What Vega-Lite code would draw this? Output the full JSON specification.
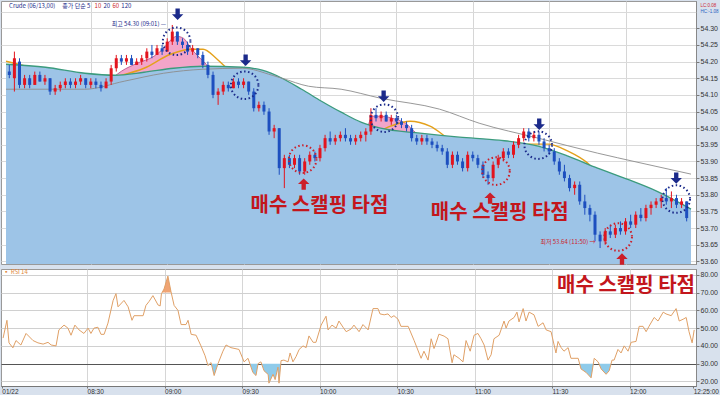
{
"$schema": "https://vega.github.io/schema/vega-lite/v6.json",
"padding": 0,
"spacing": 2,
"config": {
  "background": "#d8e1ed",
  "view": {"stroke": "#999999", "fill": "white"},
  "axis": {"labelFont": "Liberation Sans", "labelFontSize": 7, "labelColor": "#333333", "tickColor": "#777777", "domainColor": "#777777"},
  "text": {"font": "Noto Sans CJK KR"}
},
"datasets": {
  "candles": [
{"t":478,"o":54.17,"h":54.19,"l":54.15,"c":54.16},{"t":480,"o":54.15,"h":54.23,"l":54.11,"c":54.21},{"t":482,"o":54.20,"h":54.21,"l":54.12,"c":54.13},{"t":484,"o":54.13,"h":54.16,"l":54.12,"c":54.15},{"t":486,"o":54.15,"h":54.16,"l":54.12,"c":54.13},{"t":488,"o":54.13,"h":54.17,"l":54.13,"c":54.16},{"t":490,"o":54.16,"h":54.17,"l":54.14,"c":54.14},{"t":492,"o":54.14,"h":54.16,"l":54.13,"c":54.15},{"t":494,"o":54.15,"h":54.15,"l":54.10,"c":54.11},{"t":496,"o":54.11,"h":54.13,"l":54.10,"c":54.12},
{"t":498,"o":54.12,"h":54.14,"l":54.11,"c":54.13},{"t":500,"o":54.13,"h":54.15,"l":54.12,"c":54.14},{"t":502,"o":54.14,"h":54.15,"l":54.12,"c":54.13},{"t":504,"o":54.13,"h":54.15,"l":54.12,"c":54.14},{"t":506,"o":54.14,"h":54.16,"l":54.13,"c":54.15},{"t":508,"o":54.15,"h":54.15,"l":54.12,"c":54.13},{"t":510,"o":54.13,"h":54.15,"l":54.12,"c":54.14},{"t":512,"o":54.14,"h":54.15,"l":54.12,"c":54.13},{"t":514,"o":54.13,"h":54.14,"l":54.11,"c":54.12},{"t":516,"o":54.12,"h":54.15,"l":54.12,"c":54.14},
{"t":518,"o":54.14,"h":54.19,"l":54.13,"c":54.18},{"t":520,"o":54.18,"h":54.22,"l":54.17,"c":54.21},{"t":522,"o":54.21,"h":54.22,"l":54.19,"c":54.20},{"t":524,"o":54.20,"h":54.22,"l":54.19,"c":54.21},{"t":526,"o":54.21,"h":54.22,"l":54.19,"c":54.19},{"t":528,"o":54.19,"h":54.21,"l":54.19,"c":54.20},{"t":530,"o":54.20,"h":54.22,"l":54.19,"c":54.21},{"t":532,"o":54.21,"h":54.24,"l":54.20,"c":54.23},{"t":534,"o":54.23,"h":54.25,"l":54.21,"c":54.22},{"t":536,"o":54.22,"h":54.25,"l":54.22,"c":54.24},
{"t":538,"o":54.24,"h":54.25,"l":54.22,"c":54.23},{"t":540,"o":54.23,"h":54.27,"l":54.23,"c":54.26},{"t":542,"o":54.26,"h":54.31,"l":54.25,"c":54.29},{"t":544,"o":54.29,"h":54.29,"l":54.25,"c":54.26},{"t":546,"o":54.26,"h":54.27,"l":54.24,"c":54.25},{"t":548,"o":54.25,"h":54.26,"l":54.22,"c":54.23},{"t":550,"o":54.23,"h":54.25,"l":54.22,"c":54.24},{"t":552,"o":54.24,"h":54.24,"l":54.21,"c":54.22},{"t":554,"o":54.22,"h":54.23,"l":54.18,"c":54.19},{"t":556,"o":54.19,"h":54.20,"l":54.15,"c":54.16},
{"t":558,"o":54.16,"h":54.17,"l":54.09,"c":54.10},{"t":560,"o":54.10,"h":54.12,"l":54.07,"c":54.11},{"t":562,"o":54.11,"h":54.14,"l":54.10,"c":54.13},{"t":564,"o":54.13,"h":54.14,"l":54.11,"c":54.12},{"t":566,"o":54.12,"h":54.15,"l":54.12,"c":54.14},{"t":568,"o":54.14,"h":54.15,"l":54.12,"c":54.13},{"t":570,"o":54.13,"h":54.15,"l":54.12,"c":54.14},{"t":572,"o":54.14,"h":54.14,"l":54.10,"c":54.11},{"t":574,"o":54.11,"h":54.12,"l":54.05,"c":54.06},{"t":576,"o":54.06,"h":54.08,"l":54.05,"c":54.07},
{"t":578,"o":54.07,"h":54.08,"l":54.04,"c":54.05},{"t":580,"o":54.05,"h":54.06,"l":53.98,"c":53.99},{"t":582,"o":53.99,"h":54.01,"l":53.97,"c":54.00},{"t":584,"o":54.00,"h":54.00,"l":53.86,"c":53.88},{"t":586,"o":53.88,"h":53.92,"l":53.82,"c":53.91},{"t":588,"o":53.91,"h":53.92,"l":53.88,"c":53.89},{"t":590,"o":53.89,"h":53.92,"l":53.88,"c":53.91},{"t":592,"o":53.91,"h":53.92,"l":53.86,"c":53.87},{"t":594,"o":53.87,"h":53.91,"l":53.86,"c":53.90},{"t":596,"o":53.90,"h":53.93,"l":53.89,"c":53.92},
{"t":598,"o":53.92,"h":53.93,"l":53.90,"c":53.91},{"t":600,"o":53.91,"h":53.95,"l":53.90,"c":53.94},{"t":602,"o":53.94,"h":53.98,"l":53.93,"c":53.97},{"t":604,"o":53.97,"h":53.99,"l":53.95,"c":53.96},{"t":606,"o":53.96,"h":53.98,"l":53.95,"c":53.97},{"t":608,"o":53.97,"h":53.99,"l":53.96,"c":53.98},{"t":610,"o":53.98,"h":54.00,"l":53.96,"c":53.97},{"t":612,"o":53.97,"h":53.98,"l":53.95,"c":53.96},{"t":614,"o":53.96,"h":53.98,"l":53.95,"c":53.97},{"t":616,"o":53.97,"h":53.99,"l":53.96,"c":53.98},
{"t":618,"o":53.98,"h":54.00,"l":53.96,"c":53.99},{"t":620,"o":53.99,"h":54.06,"l":53.98,"c":54.04},{"t":622,"o":54.04,"h":54.06,"l":54.02,"c":54.03},{"t":624,"o":54.03,"h":54.05,"l":54.02,"c":54.04},{"t":626,"o":54.04,"h":54.05,"l":54.02,"c":54.02},{"t":628,"o":54.02,"h":54.04,"l":54.01,"c":54.03},{"t":630,"o":54.03,"h":54.04,"l":54.01,"c":54.02},{"t":632,"o":54.02,"h":54.03,"l":54.00,"c":54.01},{"t":634,"o":54.01,"h":54.02,"l":53.99,"c":54.00},{"t":636,"o":54.00,"h":54.01,"l":53.96,"c":53.97},
{"t":638,"o":53.97,"h":53.98,"l":53.95,"c":53.96},{"t":640,"o":53.96,"h":53.98,"l":53.95,"c":53.97},{"t":642,"o":53.97,"h":53.98,"l":53.95,"c":53.96},{"t":644,"o":53.96,"h":53.97,"l":53.94,"c":53.95},{"t":646,"o":53.95,"h":53.96,"l":53.93,"c":53.94},{"t":648,"o":53.94,"h":53.95,"l":53.92,"c":53.93},{"t":650,"o":53.93,"h":53.94,"l":53.88,"c":53.89},{"t":652,"o":53.89,"h":53.93,"l":53.88,"c":53.92},{"t":654,"o":53.92,"h":53.93,"l":53.89,"c":53.90},{"t":656,"o":53.90,"h":53.91,"l":53.87,"c":53.88},
{"t":658,"o":53.88,"h":53.93,"l":53.87,"c":53.92},{"t":660,"o":53.92,"h":53.93,"l":53.90,"c":53.91},{"t":662,"o":53.91,"h":53.92,"l":53.88,"c":53.89},{"t":664,"o":53.89,"h":53.90,"l":53.85,"c":53.86},{"t":666,"o":53.86,"h":53.87,"l":53.83,"c":53.85},{"t":668,"o":53.85,"h":53.90,"l":53.84,"c":53.89},{"t":670,"o":53.89,"h":53.92,"l":53.88,"c":53.91},{"t":672,"o":53.91,"h":53.94,"l":53.90,"c":53.93},{"t":674,"o":53.93,"h":53.94,"l":53.91,"c":53.92},{"t":676,"o":53.92,"h":53.96,"l":53.91,"c":53.95},
{"t":678,"o":53.95,"h":53.98,"l":53.94,"c":53.97},{"t":680,"o":53.97,"h":54.00,"l":53.96,"c":53.99},{"t":682,"o":53.99,"h":54.00,"l":53.96,"c":53.97},{"t":684,"o":53.97,"h":53.99,"l":53.96,"c":53.98},{"t":686,"o":53.98,"h":53.99,"l":53.95,"c":53.96},{"t":688,"o":53.96,"h":53.97,"l":53.93,"c":53.94},{"t":690,"o":53.94,"h":53.95,"l":53.92,"c":53.93},{"t":692,"o":53.93,"h":53.94,"l":53.89,"c":53.90},{"t":694,"o":53.90,"h":53.91,"l":53.86,"c":53.87},{"t":696,"o":53.87,"h":53.89,"l":53.84,"c":53.85},
{"t":698,"o":53.85,"h":53.86,"l":53.81,"c":53.82},{"t":700,"o":53.82,"h":53.84,"l":53.80,"c":53.83},{"t":702,"o":53.83,"h":53.84,"l":53.77,"c":53.78},{"t":704,"o":53.78,"h":53.80,"l":53.74,"c":53.76},{"t":706,"o":53.76,"h":53.77,"l":53.72,"c":53.74},{"t":708,"o":53.74,"h":53.75,"l":53.66,"c":53.68},{"t":710,"o":53.68,"h":53.69,"l":53.64,"c":53.66},{"t":712,"o":53.66,"h":53.70,"l":53.65,"c":53.69},{"t":714,"o":53.69,"h":53.71,"l":53.67,"c":53.68},{"t":716,"o":53.68,"h":53.71,"l":53.67,"c":53.70},
{"t":718,"o":53.70,"h":53.72,"l":53.68,"c":53.69},{"t":720,"o":53.69,"h":53.73,"l":53.68,"c":53.72},{"t":722,"o":53.72,"h":53.74,"l":53.70,"c":53.71},{"t":724,"o":53.71,"h":53.75,"l":53.70,"c":53.74},{"t":726,"o":53.74,"h":53.76,"l":53.72,"c":53.73},{"t":728,"o":53.73,"h":53.77,"l":53.72,"c":53.76},{"t":730,"o":53.76,"h":53.78,"l":53.74,"c":53.77},{"t":732,"o":53.77,"h":53.79,"l":53.76,"c":53.78},{"t":734,"o":53.78,"h":53.80,"l":53.76,"c":53.79},{"t":736,"o":53.79,"h":53.82,"l":53.77,"c":53.78},
{"t":738,"o":53.78,"h":53.81,"l":53.76,"c":53.79},{"t":740,"o":53.79,"h":53.80,"l":53.76,"c":53.77},{"t":742,"o":53.77,"h":53.79,"l":53.76,"c":53.78},{"t":744,"o":53.78,"h":53.78,"l":53.72,"c":53.73}
  ],
  "green": [
{"t":476.7,"p":54.192},{"t":492.2,"p":54.183},{"t":507.7,"p":54.165},{"t":519.3,"p":54.159},{"t":530.9,"p":54.168},{"t":542.5,"p":54.180},{"t":554.1,"p":54.186},{"t":569.6,"p":54.183},{"t":577.3,"p":54.174},{"t":585.1,"p":54.150},{"t":592.8,"p":54.117},{"t":600.6,"p":54.081},{"t":608.3,"p":54.048},{"t":616.1,"p":54.018},{"t":623.8,"p":54.000},{"t":639.3,"p":53.985},{"t":654.8,"p":53.973},{"t":670.3,"p":53.964},{"t":685.7,"p":53.946},{"t":697.4,"p":53.916},{"t":709.0,"p":53.880},{"t":720.6,"p":53.847},{"t":732.2,"p":53.811},{"t":745.7,"p":53.757}
  ],
  "orange": [
{"t":476.7,"p":54.201},{"t":484.4,"p":54.186},{"t":492.2,"p":54.165},{"t":499.9,"p":54.147},{"t":507.7,"p":54.141},{"t":515.4,"p":54.147},{"t":520.4,"p":54.156},{"t":530.9,"p":54.180},{"t":541.3,"p":54.222},{"t":549.1,"p":54.237},{"t":554.1,"p":54.237},{"t":559.2,"p":54.210},{"t":562.6,"p":54.186},{"t":567.7,"p":54.156},{"t":573.5,"p":54.135},{"t":581.2,"p":54.096},{"t":589.0,"p":54.036},{"t":596.7,"p":53.961},{"t":604.4,"p":53.931},{"t":612.2,"p":53.946},{"t":619.9,"p":53.976},{"t":627.7,"p":54.006},{"t":635.4,"p":54.021},{"t":643.2,"p":54.006},{"t":650.9,"p":53.967},{"t":658.6,"p":53.937},{"t":666.4,"p":53.916},{"t":674.1,"p":53.925},{"t":681.9,"p":53.952},{"t":689.6,"p":53.952},{"t":697.4,"p":53.931},{"t":705.1,"p":53.895},{"t":712.8,"p":53.826},{"t":720.6,"p":53.766},{"t":728.3,"p":53.745},{"t":736.1,"p":53.740},{"t":745.7,"p":53.736}
  ],
  "gray": [
{"t":476.7,"p":54.117},{"t":507.7,"p":54.117},{"t":523.1,"p":54.141},{"t":538.6,"p":54.165},{"t":554.1,"p":54.177},{"t":569.6,"p":54.180},{"t":581.2,"p":54.159},{"t":585.1,"p":54.150},{"t":595.5,"p":54.126},{"t":608.3,"p":54.117},{"t":623.8,"p":54.090},{"t":647.0,"p":54.057},{"t":662.5,"p":54.015},{"t":685.7,"p":53.970},{"t":709.0,"p":53.925},{"t":724.5,"p":53.898},{"t":745.7,"p":53.862}
  ],
  "short": [
{"t":476.7,"p":54.16},{"t":496.1,"p":54.12},{"t":515.4,"p":54.14},{"t":519.3,"p":54.156},{"t":522.0,"p":54.171},{"t":528.2,"p":54.195},{"t":534.8,"p":54.216},{"t":538.6,"p":54.240},{"t":541.7,"p":54.267},{"t":543.7,"p":54.276},{"t":546.4,"p":54.270},{"t":548.3,"p":54.252},{"t":550.3,"p":54.231},{"t":553.0,"p":54.210},{"t":555.3,"p":54.192},{"t":557.2,"p":54.171},{"t":561.9,"p":54.12},{"t":573.5,"p":54.10},{"t":585.1,"p":53.95},{"t":592.8,"p":53.90},{"t":604.4,"p":53.96},{"t":616.1,"p":53.98},{"t":618.4,"p":54.00},{"t":620.7,"p":54.036},{"t":623.8,"p":54.036},{"t":629.6,"p":54.027},{"t":633.5,"p":54.015},{"t":637.7,"p":53.986},{"t":641.2,"p":53.97},{"t":654.8,"p":53.92},{"t":670.3,"p":53.88},{"t":681.9,"p":53.94},{"t":693.5,"p":53.90},{"t":709.0,"p":53.70},{"t":724.5,"p":53.70},{"t":740.0,"p":53.77},{"t":745.7,"p":53.75}
  ],
  "circles": [
{"t":543.7,"p":54.261,"k":"b"},{"t":570.4,"p":54.129,"k":"b"},{"t":625.3,"p":54.030,"k":"b"},{"t":685.7,"p":53.949,"k":"b"},{"t":739.9,"p":53.787,"k":"b"},{"t":593.2,"p":53.907,"k":"r"},{"t":669.1,"p":53.871,"k":"r"},{"t":717.1,"p":53.673,"k":"r"}
  ],
  "down": [
{"t":544.1,"p":54.342},{"t":570.8,"p":54.204},{"t":625.0,"p":54.096},{"t":686.1,"p":54.012},{"t":739.9,"p":53.850}
  ],
  "up": [
{"t":593.6,"p":53.832},{"t":666.8,"p":53.790},{"t":718.6,"p":53.607}
  ],
  "big": [
{"t":599.8,"p":53.766,"s":"매수 스캘핑 타점"},{"t":670.6,"p":53.745,"s":"매수 스캘핑 타점"}
  ],
  "notes": [
{"t":539.6,"p":54.313,"s":"최고 54.30 (09:01) —","k":"hi"},{"t":708.2,"p":53.658,"s":"최저 53.64 (11:50) →","k":"lo"}
  ],
  "legend": [
{"t":477.9,"p":54.367,"s":"Crude (06/13,00)","k":"a"},{"t":498.8,"p":54.367,"s":"종가 단순 5","k":"b"},{"t":511.5,"p":54.367,"s":"10","k":"c"},{"t":515.0,"p":54.367,"s":"20","k":"d"},{"t":518.5,"p":54.367,"s":"60","k":"e"},{"t":522.0,"p":54.367,"s":"120","k":"f"}
  ],
  "rsi": [
{"t":477.5,"r":44.4},{"t":479.0,"r":54.4},{"t":479.8,"r":41.7},{"t":481.3,"r":38.9},{"t":482.5,"r":43},{"t":484.4,"r":40.5},{"t":486.4,"r":47},{"t":489.1,"r":43},{"t":491.0,"r":41.7},{"t":493.0,"r":41},{"t":494.9,"r":42},{"t":496.1,"r":40.5},{"t":498.0,"r":40},{"t":499.1,"r":49},{"t":501.1,"r":51.7},{"t":502.6,"r":50},{"t":503.8,"r":46},{"t":505.3,"r":51.7},{"t":506.9,"r":49},{"t":508.8,"r":47},{"t":510.4,"r":50},{"t":511.5,"r":47},{"t":512.7,"r":50},{"t":514.2,"r":50.5},{"t":515.4,"r":46.5},{"t":516.6,"r":46.5},{"t":518.1,"r":52.8},{"t":520.1,"r":65.6},{"t":521.2,"r":69.4},{"t":522.0,"r":62},{"t":524.3,"r":65.6},{"t":525.9,"r":62},{"t":527.4,"r":54.4},{"t":528.2,"r":57},{"t":531.7,"r":57},{"t":532.8,"r":62.8},{"t":534.0,"r":65},{"t":535.5,"r":68.3},{"t":537.5,"r":63},{"t":538.3,"r":62.5},{"t":538.8,"r":69.4},{"t":539.8,"r":72},{"t":541.3,"r":79.3},{"t":542.5,"r":70.5},{"t":543.7,"r":62.8},{"t":545.2,"r":60},{"t":546.4,"r":52},{"t":548.3,"r":52},{"t":549.1,"r":54.4},{"t":550.3,"r":46.5},{"t":552.2,"r":46},{"t":554.1,"r":40},{"t":555.7,"r":34.4},{"t":556.8,"r":28.9},{"t":558.0,"r":30.6},{"t":559.2,"r":23.3},{"t":560.7,"r":30},{"t":562.6,"r":37},{"t":563.8,"r":40.5},{"t":565.7,"r":39},{"t":568.8,"r":38},{"t":570.8,"r":31},{"t":572.3,"r":33},{"t":574.2,"r":25},{"t":575.4,"r":23.3},{"t":576.2,"r":30},{"t":577.3,"r":31},{"t":578.5,"r":26},{"t":580.1,"r":23.9},{"t":580.4,"r":19},{"t":582.0,"r":24},{"t":582.8,"r":21},{"t":583.9,"r":28},{"t":584.3,"r":19},{"t":585.1,"r":31.7},{"t":586.2,"r":32},{"t":587.8,"r":31},{"t":588.6,"r":36},{"t":589.7,"r":31},{"t":590.9,"r":34},{"t":592.1,"r":38},{"t":593.6,"r":40},{"t":594.8,"r":39},{"t":595.9,"r":45.6},{"t":597.5,"r":42},{"t":598.6,"r":42},{"t":600.6,"r":51.7},{"t":602.5,"r":56.7},{"t":603.3,"r":49},{"t":604.8,"r":51.7},{"t":606.4,"r":50},{"t":607.5,"r":54},{"t":609.1,"r":50.5},{"t":610.3,"r":48},{"t":612.2,"r":49.5},{"t":613.3,"r":51.7},{"t":615.3,"r":48},{"t":616.8,"r":52},{"t":618.8,"r":49},{"t":620.7,"r":61},{"t":622.6,"r":61},{"t":623.4,"r":58},{"t":625.0,"r":57.5},{"t":626.5,"r":58},{"t":627.7,"r":56},{"t":628.8,"r":57},{"t":630.4,"r":55},{"t":631.5,"r":51},{"t":634.3,"r":51},{"t":636.6,"r":43},{"t":639.3,"r":33},{"t":640.4,"r":37},{"t":642.0,"r":32},{"t":643.2,"r":44},{"t":644.3,"r":38.5},{"t":645.1,"r":41.7},{"t":646.2,"r":46.6},{"t":648.2,"r":45.5},{"t":649.7,"r":44},{"t":651.3,"r":30.5},{"t":652.0,"r":35},{"t":654.0,"r":33},{"t":655.5,"r":31},{"t":656.7,"r":43},{"t":658.3,"r":37},{"t":659.8,"r":46},{"t":661.3,"r":47},{"t":662.5,"r":44},{"t":663.7,"r":40.5},{"t":665.2,"r":32},{"t":666.4,"r":35},{"t":667.5,"r":44},{"t":669.5,"r":46},{"t":671.4,"r":54},{"t":672.2,"r":50},{"t":673.3,"r":54},{"t":675.3,"r":56},{"t":676.4,"r":59},{"t":677.2,"r":53.5},{"t":678.8,"r":61},{"t":679.9,"r":54},{"t":681.1,"r":59},{"t":683.0,"r":57.5},{"t":684.6,"r":51},{"t":686.5,"r":53},{"t":687.7,"r":49},{"t":689.6,"r":48},{"t":691.5,"r":36},{"t":692.3,"r":42.5},{"t":693.5,"r":39},{"t":694.6,"r":37},{"t":696.2,"r":39},{"t":697.3,"r":33},{"t":700.1,"r":33},{"t":701.2,"r":27},{"t":703.2,"r":25},{"t":705.1,"r":22},{"t":706.3,"r":33},{"t":707.8,"r":31},{"t":709.0,"r":27},{"t":710.9,"r":24},{"t":712.1,"r":26},{"t":713.2,"r":32},{"t":714.0,"r":32},{"t":715.5,"r":38},{"t":716.7,"r":36},{"t":717.9,"r":40},{"t":719.4,"r":37},{"t":720.6,"r":42},{"t":722.5,"r":42.5},{"t":723.7,"r":51},{"t":725.2,"r":51},{"t":726.4,"r":48},{"t":727.5,"r":51},{"t":729.5,"r":56},{"t":731.0,"r":54},{"t":733.0,"r":59},{"t":734.1,"r":58},{"t":736.1,"r":57},{"t":738.0,"r":61},{"t":739.2,"r":54},{"t":740.7,"r":55},{"t":741.9,"r":56},{"t":743.0,"r":48},{"t":744.2,"r":41.7},{"t":745.0,"r":49}
  ],
  "ob": [
{"t":539.0,"r":70,"g":1},{"t":539.8,"r":72,"g":1},{"t":541.3,"r":79.3,"g":1},{"t":542.5,"r":70.5,"g":1},{"t":542.6,"r":70,"g":1}
  ],
  "os": [
{"t":556.6,"r":30,"g":1},{"t":556.8,"r":28.9,"g":1},{"t":557.5,"r":30,"g":1},{"t":558.1,"r":30,"g":1},{"t":559.2,"r":23.3,"g":1},{"t":560.7,"r":30,"g":1},
{"t":573.0,"r":30,"g":2},{"t":574.2,"r":25,"g":2},{"t":575.4,"r":23.3,"g":2},{"t":576.2,"r":30,"g":2},
{"t":577.6,"r":30,"g":3},{"t":578.5,"r":26,"g":3},{"t":580.1,"r":23.9,"g":3},{"t":580.4,"r":19,"g":3},{"t":582.0,"r":24,"g":3},{"t":582.8,"r":21,"g":3},{"t":583.9,"r":28,"g":3},{"t":584.3,"r":19,"g":3},{"t":585.0,"r":30,"g":3},
{"t":700.6,"r":30,"g":4},{"t":701.2,"r":27,"g":4},{"t":703.2,"r":25,"g":4},{"t":705.1,"r":22,"g":4},{"t":706.0,"r":30,"g":4},
{"t":708.1,"r":30,"g":5},{"t":709.0,"r":27,"g":5},{"t":710.9,"r":24,"g":5},{"t":712.1,"r":26,"g":5},{"t":712.8,"r":30,"g":5}
  ],
  "rsinotes": [
{"t":718.6,"r":73.9,"s":"매수 스캘핑 타점"}
  ],
  "rsilegend": [
{"t":477.6,"r":81.4,"s":"▪ RSI 14"}
  ]
},
"vconcat": [
{
  "width": 695,
  "height": 263,
  "encoding": {
    "x": {"field": "t", "type": "quantitative", "scale": {"domain": [476.7, 745.7], "nice": false, "zero": false},
      "axis": {"values": [510, 540, 570, 600, 630, 660, 690, 720], "labels": false, "ticks": false, "domain": false, "grid": true, "gridColor": "#d6d6d6", "title": null, "minExtent": 0, "maxExtent": 0}},
    "y": {"field": "p", "type": "quantitative", "title": null, "scale": {"domain": [53.592, 54.382], "nice": false, "zero": false},
      "axis": {"orient": "right", "values": [53.6, 53.65, 53.7, 53.75, 53.8, 53.85, 53.9, 53.95, 54, 54.05, 54.1, 54.15, 54.2, 54.25, 54.3, 54.35, 54.368],
        "format": ".2f", "title": null, "grid": true, "labelOverlap": false,
        "labelExpr": "datum.value > 54.36 ? 'LC:0.08' : datum.value > 54.32 ? 'HC:-1.08' : datum.label",
        "labelColor": {"condition": [{"test": "datum.value > 54.36", "value": "#cc2a36"}, {"test": "datum.value > 54.32", "value": "#2a5fc0"}], "value": "#333333"},
        "labelFontSize": {"condition": {"test": "datum.value > 54.32", "value": 4.5}, "value": 7},
        "gridColor": {"condition": {"test": "datum.value > 54.36", "value": "transparent"}, "value": "#dadada"},
        "tickOpacity": {"condition": {"test": "datum.value > 54.32", "value": 0}, "value": 1},
        "tickSize": 3, "domainDash": [1, 1], "labelPadding": 1, "minExtent": 25, "maxExtent": 25}}
  },
  "layer": [
    {"data": {"name": "short"}, "mark": {"type": "area", "clip": true, "color": "#f3a5c9", "opacity": 1, "interpolate": "monotone", "line": {"color": "#b04a86", "strokeWidth": 0.8}},
     "encoding": {"y2": {"datum": 53.592}}},
    {"data": {"name": "orange"}, "mark": {"type": "line", "clip": true, "color": "#e4a11b", "strokeWidth": 1.4, "interpolate": "monotone"}, "encoding": {}},
    {"data": {"name": "green"}, "mark": {"type": "area", "clip": true, "color": "#9dc4e7", "opacity": 1, "interpolate": "monotone", "line": {"color": "#3b9b7d", "strokeWidth": 1.3}},
     "encoding": {"y2": {"datum": 53.592}}},
    {"data": {"name": "gray"}, "mark": {"type": "line", "clip": true, "color": "#8c8c8c", "strokeWidth": 0.9, "interpolate": "monotone"}, "encoding": {}},
    {"data": {"name": "candles"}, "mark": {"type": "rule", "strokeWidth": 1},
     "encoding": {
       "y": {"field": "l", "type": "quantitative", "title": null, "scale": {"domain": [53.592, 54.382], "nice": false, "zero": false}},
       "y2": {"field": "h"},
       "color": {"condition": {"test": "datum.c >= datum.o", "value": "#e3141d"}, "value": "#1d4fbf"}}},
    {"data": {"name": "candles"}, "mark": {"type": "bar", "width": 3},
     "encoding": {
       "y": {"field": "o", "type": "quantitative", "title": null, "scale": {"domain": [53.592, 54.382], "nice": false, "zero": false}},
       "y2": {"field": "c"},
       "color": {"condition": {"test": "datum.c >= datum.o", "value": "#e3141d"}, "value": "#1d4fbf"}}},
    {"data": {"name": "circles"}, "mark": {"type": "point", "shape": "circle", "size": 760, "filled": false, "strokeWidth": 2, "strokeDash": [1.5, 2.5], "opacity": 1},
     "encoding": {"color": {"field": "k", "type": "nominal", "scale": {"domain": ["b", "r"], "range": ["#1b2a8a", "#cc1f2a"]}, "legend": null}}},
    {"data": {"name": "down"}, "mark": {"type": "point", "shape": "M-0.38,-1L0.38,-1L0.38,0L1,0L0,1L-1,0L-0.38,0Z", "size": 130, "filled": true, "opacity": 1, "color": "#1b2a8a"}, "encoding": {}},
    {"data": {"name": "up"}, "mark": {"type": "point", "shape": "M-0.38,1L0.38,1L0.38,0L1,0L0,-1L-1,0L-0.38,0Z", "size": 130, "filled": true, "opacity": 1, "color": "#cc1f2a"}, "encoding": {}},
    {"data": {"name": "big"}, "mark": {"type": "text", "fontSize": 20, "fontWeight": "bold", "color": "#c3161c", "align": "center", "baseline": "middle"},
     "encoding": {"text": {"field": "s"}}},
    {"data": {"name": "notes"}, "mark": {"type": "text", "fontSize": 6, "align": "right", "baseline": "middle"},
     "encoding": {"text": {"field": "s"}, "color": {"field": "k", "type": "nominal", "scale": {"domain": ["hi", "lo"], "range": ["#cc2a36", "#333333"]}, "legend": null}}},
    {"data": {"name": "legend"}, "mark": {"type": "text", "fontSize": 6, "align": "left", "baseline": "middle"},
     "encoding": {"text": {"field": "s"}, "color": {"field": "k", "type": "nominal", "scale": {"domain": ["a", "b", "c", "d", "e", "f"], "range": ["#222222", "#2a5fc0", "#9b3d9b", "#d99a00", "#2e9a5e", "#888888"]}, "legend": null}}}
  ]
},
{
  "width": 695,
  "height": 117,
  "encoding": {
    "x": {"field": "t", "type": "quantitative", "scale": {"domain": [476.7, 745.7], "nice": false, "zero": false},
      "axis": {"values": [477, 510, 540, 570, 600, 630, 660, 690, 720, 744.6],
        "labelExpr": "datum.value < 480 ? '01/22' : datum.value > 740 ? '12:25:00' : (datum.value < 600 ? '0' : '') + floor(datum.value/60) + ':' + (datum.value % 60 == 0 ? '00' : '30')",
        "labelAlign": "left", "labelBaseline": "top", "labelPadding": 0, "labelFlush": false, "labelOverlap": false, "labelFontSize": 6.5, "tickSize": 2, "title": null, "grid": true,
        "gridColor": {"condition": {"test": "datum.value < 480 || datum.value > 740", "value": "transparent"}, "value": "#d6d6d6"},
        "minExtent": 12, "maxExtent": 12}},
    "y": {"field": "r", "type": "quantitative", "scale": {"domain": [17.4, 83.3], "nice": false, "zero": false},
      "axis": {"orient": "right", "values": [20, 30, 40, 50, 60, 70, 80], "format": ".2f", "title": null, "grid": true, "labelOverlap": false,
        "gridColor": {"condition": {"test": "datum.value == 30", "value": "#555555"}, "value": "#d0d0d0"},
        "tickSize": 3, "domainDash": [1, 1], "labelPadding": 1, "minExtent": 25, "maxExtent": 25}}
  },
  "layer": [
    {"data": {"name": "ob"}, "mark": {"type": "area", "color": "#f0a474", "opacity": 1}, "encoding": {"y2": {"datum": 70}, "detail": {"field": "g"}}},
    {"data": {"name": "os"}, "mark": {"type": "area", "color": "#8fcbea", "opacity": 1}, "encoding": {"y2": {"datum": 30}, "detail": {"field": "g"}}},
    {"data": {"name": "rsi"}, "mark": {"type": "line", "clip": true, "color": "#e0a066", "strokeWidth": 1}, "encoding": {}},
    {"data": {"name": "rsinotes"}, "mark": {"type": "text", "fontSize": 20, "fontWeight": "bold", "color": "#c3161c", "align": "center", "baseline": "middle"},
     "encoding": {"text": {"field": "s"}}},
    {"data": {"name": "rsilegend"}, "mark": {"type": "text", "fontSize": 6, "color": "#e0883c", "align": "left", "baseline": "middle"},
     "encoding": {"text": {"field": "s"}}}
  ]
}
]
}
